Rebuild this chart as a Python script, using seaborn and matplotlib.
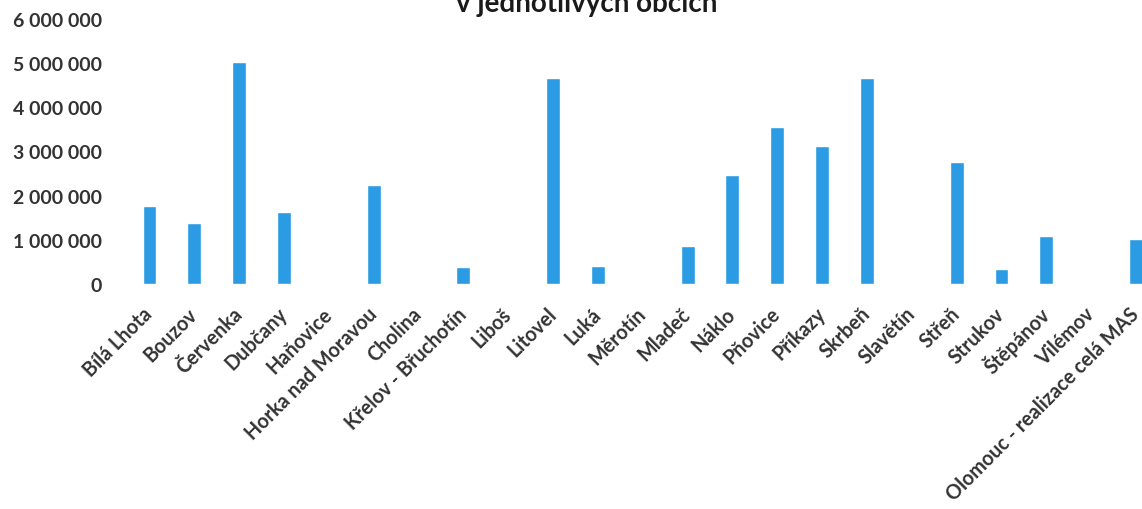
import matplotlib
matplotlib.use("Agg")
import matplotlib.pyplot as plt
import seaborn as sns
from matplotlib.ticker import FuncFormatter, MultipleLocator

categories = [
    "Bílá Lhota", "Bouzov", "Červenka", "Dubčany", "Haňovice",
    "Horka nad Moravou", "Cholina", "Křelov - Břuchotín", "Liboš", "Litovel",
    "Luká", "Měrotín", "Mladeč", "Náklo", "Pňovice", "Příkazy", "Skrbeň",
    "Slavětín", "Střeň", "Strukov", "Štěpánov", "Vilémov",
    "Olomouc - realizace celá MAS",
]
values = [
    1770000, 1390000, 5030000, 1640000, 0,
    2230000, 0, 390000, 0, 4650000,
    410000, 0, 870000, 2470000, 3550000, 3130000, 4660000,
    0, 2770000, 350000, 1090000, 0,
    1010000,
]
title_text = "v jednotlivých obcích"

sns.set_style("white")
plt.rcParams["font.family"] = ["Lato", "DejaVu Sans"]

W, H = 1142, 510
fig = plt.figure(figsize=(W / 100, H / 100), dpi=100)
fig.patch.set_facecolor("white")

left_px, zero_px, top_px = 127.1, 285.0, 19.8
step_px = 44.84
ax = fig.add_axes([left_px / W, (H - zero_px) / H, (W - left_px) / W, (zero_px - top_px) / H])

sns.barplot(x=categories, y=values, order=categories, color="#2B9CE3",
            saturation=1, width=0.31, errorbar=None, ax=ax)

ax.set_xlim(-0.5, (W - left_px) / step_px - 0.5)
ax.set_ylim(0, 6000000)
ax.yaxis.set_major_locator(MultipleLocator(1000000))
ax.yaxis.set_major_formatter(FuncFormatter(lambda v, p: f"{int(v):,}".replace(",", " ")))
for s in ax.spines.values():
    s.set_visible(False)
ax.grid(False)
ax.set_xlabel("")
ax.set_ylabel("")
ax.tick_params(axis="y", length=0, pad=18, labelsize=14, labelcolor="#333333")
ax.tick_params(axis="x", length=0, pad=19, labelsize=14.2, labelcolor="#333333")
for lbl in ax.get_yticklabels():
    lbl.set_fontweight("bold")
ax.set_xticks(range(len(categories)))
ax.set_xticklabels(categories, rotation=45, ha="right", va="center",
                   rotation_mode="anchor", fontweight="bold")

fig.text(587 / W, 1 - 12 / H, title_text, ha="center", va="baseline",
         fontsize=20, fontweight="bold", color="#1a1a1a")

fig.savefig("out.png", dpi=100, facecolor="white")
